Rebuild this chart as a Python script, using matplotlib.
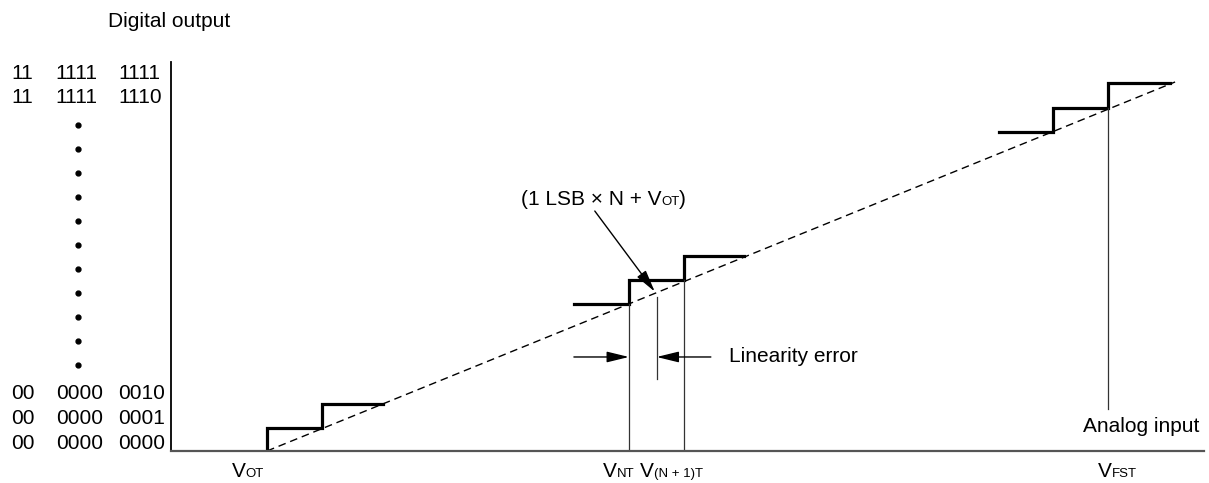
import matplotlib

matplotlib.use("Agg")
import matplotlib.pyplot as plt
from matplotlib.transforms import offset_copy

plt.rcParams["font.family"] = ["Liberation Sans", "DejaVu Sans"]

# units: x in LSB of analog input (0 = V_OT), y in output-code steps
FS = 15
FS_SUB = 9.5

ideal_x = [0.0, 16.51]
ideal_y = [0.0, 15.70]

stair_lo_x = [0.0, 0.0, 1.0, 1.0, 2.11]
stair_lo_y = [0.0, 0.98, 0.98, 2.0, 2.0]
stair_mid_x = [5.58, 6.58, 6.58, 7.58, 7.58, 8.67]
stair_mid_y = [6.24, 6.24, 7.26, 7.26, 8.28, 8.28]
stair_hi_x = [13.31, 14.29, 14.29, 15.29, 15.29, 16.42]
stair_hi_y = [13.59, 13.59, 14.61, 14.61, 15.65, 15.65]

# thin marker lines (x, y_from, y_to)
v_nt = (6.58, 0.0, 6.24)
v_n1t = (7.58, 0.0, 7.26)
v_ideal = (7.085, 3.06, 6.57)
v_fst = (15.29, 1.79, 14.61)

code_rows = [("11", "1111", "1111"), ("11", "1111", "1110"),
             ("00", "0000", "0010"), ("00", "0000", "0001"),
             ("00", "0000", "0000")]
code_row_y = [16.04, 15.02, 2.43, 1.38, 0.34]
code_col_x = [-4.65, -3.84, -2.71]
dots_x = -3.44
dots_y = [13.87, 12.85, 11.83, 10.81, 9.79, 8.77, 7.74, 6.72, 5.70, 4.68,
          3.66]

xlabels = [("V", "OT", -0.64), ("V", "NT", 6.11), ("V", "(N + 1)T", 6.78),
           ("V", "FST", 15.11)]
xlabel_y = -1.11

err_y = 4.0
err_left = (5.58, 6.58)
err_right = (8.07, 7.085)

fig = plt.figure(figsize=(12.09, 4.83), dpi=100)
ax = fig.add_axes([171 / 1209, 32 / 483, 1033 / 1209, 389 / 483])
ax.set_xlim(-1.745, 17.036)
ax.set_ylim(0, 16.55)
ax.set_xticks([])
ax.set_yticks([])
for s in ("top", "right"):
    ax.spines[s].set_visible(False)
ax.spines["left"].set_linewidth(1.3)
ax.spines["left"].set_color("black")
ax.spines["bottom"].set_linewidth(1.6)
ax.spines["bottom"].set_color("#555555")
renderer = fig.canvas.get_renderer()


def rich(x, y, parts, va="baseline"):
    dx = 0.0
    for s, fs in parts:
        tr = offset_copy(ax.transData, fig=fig, x=dx, y=0, units="dots")
        t = ax.text(x, y, s, fontsize=fs, va=va, ha="left", transform=tr,
                    clip_on=False)
        dx += t.get_window_extent(renderer).width


ax.plot(ideal_x, ideal_y, color="black", lw=1.0, ls=(0, (5.5, 3.5)))
for xs, ys in ((stair_lo_x, stair_lo_y), (stair_mid_x, stair_mid_y),
               (stair_hi_x, stair_hi_y)):
    ax.plot(xs, ys, color="black", lw=2.3, solid_joinstyle="miter")
for x, y0, y1 in (v_nt, v_n1t, v_ideal, v_fst):
    ax.plot([x, x], [y0, y1], color="#333333", lw=0.9)

arrow = dict(arrowstyle="-|>,head_length=0.9,head_width=0.22", color="black",
             lw=1.0, shrinkA=0, shrinkB=0, mutation_scale=15)
ax.annotate("", xy=(err_left[1], err_y), xytext=(err_left[0], err_y),
            arrowprops=arrow)
ax.annotate("", xy=(err_right[1], err_y), xytext=(err_right[0], err_y),
            arrowprops=arrow)
ax.text(8.4, err_y, "Linearity error", fontsize=FS, va="center", ha="left")

ax.annotate("", xy=(7.05, 6.78), xytext=(5.96, 10.21), arrowprops=arrow)
rich(4.61, 10.48, [("(1 LSB \u00d7 N + V", FS), ("OT", FS_SUB), (")", FS)])

ax.text(16.96, 1.03, "Analog input", fontsize=FS, va="center", ha="right")
ax.text(-2.89, 18.27, "Digital output", fontsize=FS, va="center", ha="left",
        clip_on=False)

for row, y in zip(code_rows, code_row_y):
    for s, x in zip(row, code_col_x):
        ax.text(x, y, s, fontsize=FS, va="center", ha="left", clip_on=False)
ax.plot([dots_x] * len(dots_y), dots_y, "o", color="black", ms=3.5,
        clip_on=False)

for main, sub, x in xlabels:
    rich(x, xlabel_y, [(main, FS), (sub, FS_SUB)])

fig.savefig("out.png", dpi=100)
